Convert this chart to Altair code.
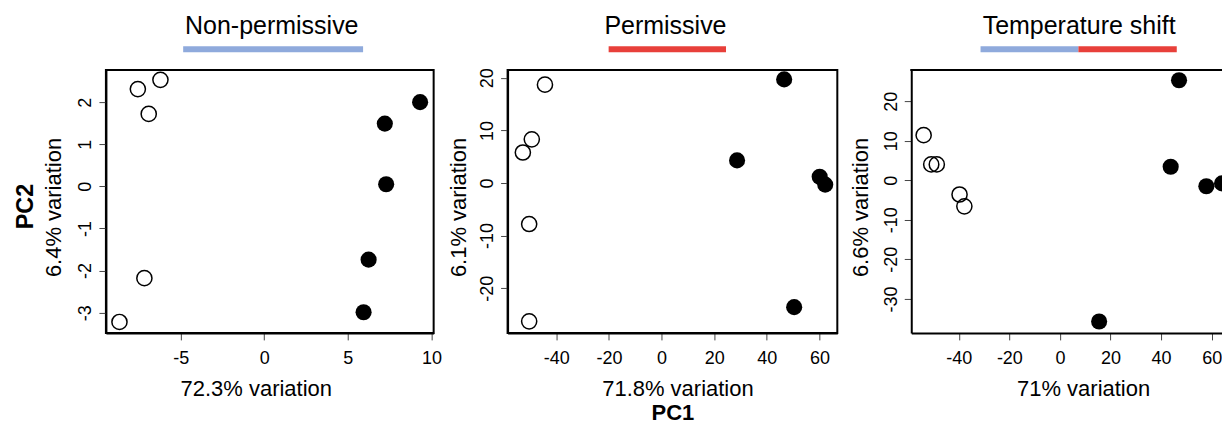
import altair as alt
import pandas as pd

# ---------------- data ----------------
panel_titles = ["Non-permissive", "Permissive", "Temperature shift"]
x_titles = ["72.3% variation", "71.8% variation", "71% variation"]
y_titles = ["6.4% variation", "6.1% variation", "6.6% variation"]

# Panel 1 (Non-permissive)
p1_open_x = [-6.21, -7.56, -6.91, -7.17, -8.66]
p1_open_y = [2.53, 2.31, 1.72, -2.18, -3.22]
p1_fill_x = [9.32, 7.21, 7.29, 6.24, 5.94]
p1_fill_y = [2.00, 1.49, 0.05, -1.74, -2.99]

# Panel 2 (Permissive)
p2_open_x = [-44.3, -49.3, -52.7, -50.3, -50.3]
p2_open_y = [18.7, 8.3, 5.8, -7.8, -26.3]
p2_fill_x = [46.6, 28.7, 60.1, 62.2, 50.4]
p2_fill_y = [19.7, 4.3, 1.2, -0.3, -23.6]

# Panel 3 (Temperature shift)
p3_open_x = [-53.9, -50.9, -48.7, -39.7, -37.8]
p3_open_y = [11.4, 4.0, 4.0, -3.6, -6.6]
p3_fill_x = [47.1, 43.8, 57.9, 64.1, 15.5]
p3_fill_y = [25.3, 3.4, -1.5, -0.8, -35.7]

x_domains = [[-9.47, 10.13], [-58.5, 66.8], [-58.8, 71.6]]
y_domains = [[-3.48, 2.76], [-28.5, 21.46], [-38.6, 27.85]]
x_ticks = [[-5, 0, 5, 10], [-40, -20, 0, 20, 40, 60], [-40, -20, 0, 20, 40, 60]]
y_ticks = [[-3, -2, -1, 0, 1, 2], [-20, -10, 0, 10, 20], [-30, -20, -10, 0, 10, 20]]

# condition bars under the titles (start, end, condition)
bar_start = [[-4.85], [-20.1], [-31.4, 7.3]]
bar_end = [[5.91], [24.5], [7.3, 46.2]]
bar_cond = [["Non-permissive"], ["Permissive"], ["Non-permissive", "Permissive"]]

open_x = [p1_open_x, p2_open_x, p3_open_x]
open_y = [p1_open_y, p2_open_y, p3_open_y]
fill_x = [p1_fill_x, p2_fill_x, p3_fill_x]
fill_y = [p1_fill_y, p2_fill_y, p3_fill_y]

# ---------------- layout / style ----------------
FONT = "Liberation Sans"
widths = [328, 330, 330]
HEIGHT = 263
xtitle_x = [150, 170, 172]
ytitle_x = [-45, -42, -44]
title_x = [166, 158, 168]
cond_colors = ["#8FAADC", "#E8403A"]


def panel(i):
    xs = alt.Scale(domain=x_domains[i], nice=False, zero=False)
    ys = alt.Scale(domain=y_domains[i], nice=False, zero=False)
    xax = alt.Axis(
        values=x_ticks[i], title=x_titles[i], titleX=xtitle_x[i], titleY=63,
        titleAlign="center", titleBaseline="alphabetic", titleAngle=0,
        labelPadding=10, labelAngle=0, labelExpr="'' + datum.value",
    )
    yax = alt.Axis(
        values=y_ticks[i], title=y_titles[i], titleX=ytitle_x[i], titleY=137,
        titleAlign="center", titleBaseline="alphabetic", titleAngle=270,
        labelAngle=270, labelAlign="center", labelBaseline="alphabetic",
        labelPadding=8, labelExpr="'' + datum.value",
    )
    pts_open = pd.DataFrame({"x": open_x[i], "y": open_y[i]})
    pts_fill = pd.DataFrame({"x": fill_x[i], "y": fill_y[i]})
    bars = pd.DataFrame({"s": bar_start[i], "e": bar_end[i], "cond": bar_cond[i]})

    open_layer = alt.Chart(pts_open).mark_point(
        shape="circle", filled=False, size=230, strokeWidth=1.5, color="black", opacity=1
    ).encode(x=alt.X("x:Q", scale=xs, axis=xax), y=alt.Y("y:Q", scale=ys, axis=yax))

    fill_layer = alt.Chart(pts_fill).mark_circle(
        size=260, color="black", opacity=1
    ).encode(x=alt.X("x:Q", scale=xs, axis=xax), y=alt.Y("y:Q", scale=ys, axis=yax))

    bar_layer = alt.Chart(bars).mark_rule(strokeWidth=6, strokeCap="butt").encode(
        x=alt.X("s:Q", scale=xs, axis=xax),
        x2="e:Q",
        y=alt.value(-21),
        color=alt.Color("cond:N", scale=alt.Scale(domain=panel_titles[:2], range=cond_colors), legend=None),
    )

    title_layer = alt.Chart(pd.DataFrame({"t": [panel_titles[i]]})).mark_text(
        fontSize=25, align="center", baseline="alphabetic", color="black", font=FONT
    ).encode(text="t:N", x=alt.value(title_x[i]), y=alt.value(-36))

    layers = [bar_layer, title_layer, open_layer, fill_layer]

    if i == 0:
        layers.append(
            alt.Chart(pd.DataFrame({"t": ["PC2"]})).mark_text(
                fontSize=23.5, fontWeight="bold", angle=270, align="center",
                baseline="alphabetic", color="black", font=FONT
            ).encode(text="t:N", x=alt.value(-72.7), y=alt.value(136.5))
        )
    if i == 1:
        layers.append(
            alt.Chart(pd.DataFrame({"t": ["PC1"]})).mark_text(
                fontSize=22, fontWeight="bold", align="center",
                baseline="alphabetic", color="black", font=FONT
            ).encode(text="t:N", x=alt.value(165.5), y=alt.value(350))
        )
    props = dict(width=widths[i], height=HEIGHT)
    if i == 2:
        layers.append(
            alt.Chart(pd.DataFrame({"a": [0]})).mark_rule(color="black", strokeWidth=2).encode(
                x=alt.value(-1), x2=alt.value(widths[i]), y=alt.value(0)
            )
        )
        props["view"] = alt.ViewBackground(stroke="transparent")
    return alt.layer(*layers).properties(**props)


chart = (
    alt.hconcat(panel(0), panel(1), panel(2), spacing=74, bounds="flush")
    .properties(padding={"left": 5, "top": 5, "right": -21, "bottom": 0})
    .configure(font=FONT)
    .configure_view(stroke="black", strokeWidth=2)
    .configure_axis(
        grid=False, domainColor="black", domainWidth=2, tickColor="#444",
        tickWidth=1, tickSize=7, labelFontSize=18, labelColor="black",
        titleFontSize=22, titleFontWeight="normal", titleColor="black",
        labelFlush=False, labelOverlap=False, labelFont=FONT, titleFont=FONT,
    )
)

chart.save("out.html", embed_options={"renderer": "svg", "actions": False})
